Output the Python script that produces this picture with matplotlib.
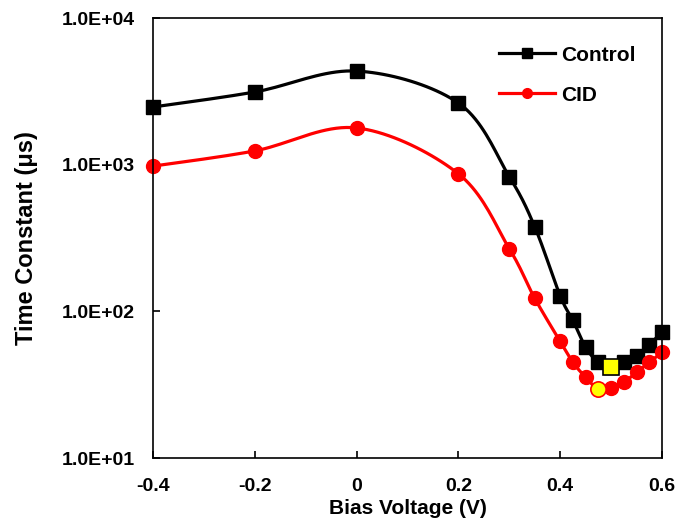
import matplotlib
matplotlib.use("Agg")
import matplotlib.pyplot as plt
import numpy as np

plt.rcParams['font.family'] = ['Liberation Sans', 'DejaVu Sans']
plt.rcParams['font.weight'] = 'bold'

bias = [-0.4, -0.2, 0.0, 0.2, 0.3, 0.35, 0.4, 0.425, 0.45, 0.475, 0.5, 0.525, 0.55, 0.575, 0.6]
control = [2480, 3140, 4360, 2640, 830, 378, 128, 87, 57, 45, 42, 45.5, 50, 59.5, 72]
cid = [980, 1245, 1785, 869, 268, 123, 62.5, 45, 35.6, 29.5, 29.9, 32.9, 38.5, 45, 52.6]
control_hl = 10  # highlighted point index (0.5 V)
cid_hl = 9       # highlighted point index (0.475 V)


def smooth(x, y, n=20):
    # Catmull-Rom through the points, done in (x, log y) like Excel's smoothed line
    x = np.asarray(x, float)
    ly = np.log10(np.asarray(y, float))
    px = np.concatenate([[x[0]], x, [x[-1]]])
    py = np.concatenate([[ly[0]], ly, [ly[-1]]])
    xs, ys = [], []
    t = np.linspace(0, 1, n, endpoint=False)
    for i in range(1, len(px) - 2):
        for p, out in ((px, xs), (py, ys)):
            p0, p1, p2, p3 = p[i - 1], p[i], p[i + 1], p[i + 2]
            out.extend(0.5 * (2 * p1 + (-p0 + p2) * t + (2 * p0 - 5 * p1 + 4 * p2 - p3) * t ** 2
                              + (-p0 + 3 * p1 - 3 * p2 + p3) * t ** 3))
    xs.append(x[-1])
    ys.append(ly[-1])
    return np.array(xs), 10 ** np.array(ys)


fig = plt.figure(figsize=(6.8, 5.2), dpi=100)
ax = fig.add_axes([0.225, 0.119, 0.7485, 0.846])

sx, sy = smooth(bias, control)
ax.plot(sx, sy, color='black', lw=2.3)
ax.plot(bias, control, 's', color='black', ms=10, ls='none', clip_on=False)
ax.plot([], [], color='black', lw=2.3, marker='s', ms=7, label='Control')

sx, sy = smooth(bias, cid)
ax.plot(sx, sy, color='red', lw=2.3)
ax.plot(bias, cid, 'o', color='red', ms=10, ls='none', clip_on=False)
ax.plot([], [], color='red', lw=2.3, marker='o', ms=7, label='CID')

ax.plot(bias[control_hl], control[control_hl], 's', mfc='yellow', mec='black', mew=1.2, ms=11, zorder=5)
ax.plot(bias[cid_hl], cid[cid_hl], 'o', mfc='yellow', mec='red', mew=1.2, ms=11, zorder=5)

ax.set_yscale('log')
ax.set_xlim(-0.4, 0.6)
ax.set_ylim(10, 10000)
ax.set_xticks([-0.4, -0.2, 0, 0.2, 0.4, 0.6])
ax.set_xticklabels(['-0.4', '-0.2', '0', '0.2', '0.4', '0.6'])
ax.set_yticks([10, 100, 1000, 10000])
ax.set_yticklabels(['1.0E+01', '1.0E+02', '1.0E+03', '1.0E+04'])
ax.yaxis.set_minor_locator(matplotlib.ticker.NullLocator())
ax.tick_params(direction='in', length=5, width=1.2, labelsize=14)
ax.tick_params(axis='x', pad=14)
ax.tick_params(axis='y', pad=13)
for s in ax.spines.values():
    s.set_linewidth(1.2)

ax.set_xlabel('Bias Voltage (V)', fontsize=15, fontweight='bold', labelpad=3)
ax.set_ylabel('Time Constant (μs)', fontsize=17, fontweight='bold', labelpad=17)

ax.legend(loc='upper right', frameon=False, fontsize=15, handlelength=2.7,
          labelspacing=1.0, bbox_to_anchor=(0.985, 0.98), handletextpad=0.3)

fig.savefig('out.png', dpi=100)
